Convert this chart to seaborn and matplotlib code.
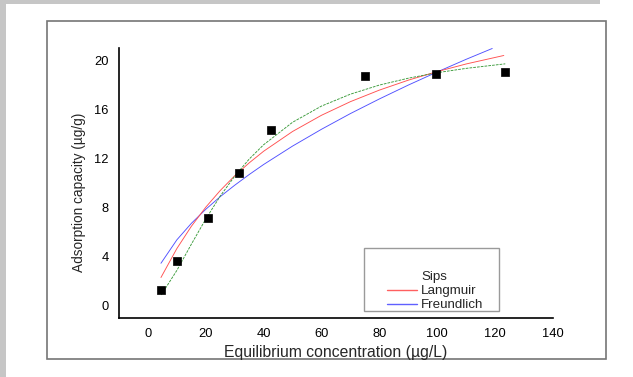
import matplotlib
matplotlib.use("Agg")
import matplotlib.pyplot as plt
from matplotlib.patches import Rectangle
from matplotlib.lines import Line2D
import seaborn as sns
import pandas as pd

# Experimental data
conc = [4.5, 10.1, 20.7, 31.5, 42.6, 74.9, 99.4, 123.5]
capacity = [1.31, 3.65, 7.18, 10.83, 14.29, 18.75, 18.86, 19.05]

# Model curves
sips_x = [4.6, 10, 15, 20, 25, 30, 35, 40, 50, 60, 70, 80, 90, 100, 110, 123.5]
sips_y = [0.88, 2.88, 5.01, 7.07, 8.94, 10.56, 11.95, 13.12, 14.95, 16.27, 17.24, 17.98, 18.54, 18.99, 19.34, 19.71]
lang_x = [4.5, 10, 15, 20, 25, 30, 35, 40, 50, 60, 70, 80, 90, 100, 110, 123]
lang_y = [2.30, 4.66, 6.47, 8.03, 9.39, 10.59, 11.64, 12.59, 14.20, 15.52, 16.63, 17.57, 18.38, 19.08, 19.70, 20.39]
freu_x = [4.5, 10, 15, 20, 25, 30, 35, 40, 50, 60, 70, 80, 90, 100, 110, 119]
freu_y = [3.46, 5.37, 6.71, 7.86, 8.89, 9.82, 10.69, 11.51, 13.01, 14.38, 15.66, 16.85, 17.98, 19.05, 20.08, 20.96]

x_ticks = [0, 20, 40, 60, 80, 100, 120, 140]
y_ticks = [0, 4, 8, 12, 16, 20]
legend_labels = ["Sips", "Langmuir", "Freundlich"]

sns.set_style("white")
plt.rcParams["font.family"] = ["Liberation Sans", "DejaVu Sans"]

W, H = 633, 377
fig = plt.figure(figsize=(W / 100, H / 100), dpi=100, facecolor="white")

def fx(px):
    return px / W

def fy(py):
    return 1 - py / H

# gray frame strips and inner box
fig.patches.append(Rectangle((0, 0), fx(6), 1, transform=fig.transFigure, facecolor="#c6c6c6", edgecolor="none", zorder=0))
fig.patches.append(Rectangle((0, fy(4)), fx(600), 4 / H, transform=fig.transFigure, facecolor="#c6c6c6", edgecolor="none", zorder=0))
fig.patches.append(Rectangle((fx(47), fy(359)), fx(606 - 47), (359 - 21) / H, transform=fig.transFigure,
                             facecolor="none", edgecolor="#767676", linewidth=1.2, zorder=1))

ax = fig.add_axes([fx(119), fy(318), fx(553 - 119), (318 - 48) / H])
ax.set_facecolor("none")

df_pts = pd.DataFrame({"x": conc, "y": capacity})
df_s = pd.DataFrame({"x": sips_x, "y": sips_y})
df_l = pd.DataFrame({"x": lang_x, "y": lang_y})
df_f = pd.DataFrame({"x": freu_x, "y": freu_y})

sns.lineplot(data=df_f, x="x", y="y", ax=ax, color="#5050ff", linewidth=0.65, sort=False, estimator=None)
sns.lineplot(data=df_l, x="x", y="y", ax=ax, color="#ff5050", linewidth=0.65, sort=False, estimator=None)
sns.lineplot(data=df_s, x="x", y="y", ax=ax, color="#3a9a3a", linewidth=0.65, sort=False, estimator=None)
ax.lines[-1].set_dashes([3, 1.2])
sns.scatterplot(data=df_pts, x="x", y="y", ax=ax, marker="s", s=30, color="black", edgecolor="black",
                linewidth=0.5, zorder=5)

ax.set_xlim(-10, 140)
ax.set_ylim(-1, 21)
ax.set_xticks(x_ticks)
ax.set_yticks(y_ticks)
ax.set_xticks([-10, 10, 30, 50, 70, 90, 110, 130], minor=True)
ax.set_yticks([2, 6, 10, 14, 18], minor=True)
ax.tick_params(axis="both", which="major", direction="out", length=4.5, width=1, labelsize=9.3, pad=3, colors="black")
ax.tick_params(axis="both", which="minor", direction="out", length=2.5, width=1, colors="black")

for side in ["top", "right"]:
    ax.spines[side].set_visible(False)
for side in ["left", "bottom"]:
    ax.spines[side].set_linewidth(1.2)
    ax.spines[side].set_color("black")

ax.set_xlabel("")
ax.set_ylabel("")
fig.text(fx(336), fy(353), "Equilibrium concentration (µg/L)", ha="center", va="center", fontsize=11.3)
fig.text(fx(79), fy(192), "Adsorption capacity (µg/g)", ha="center", va="center", rotation=90, fontsize=9.8)

# legend box
fig.patches.append(Rectangle((fx(364), fy(311)), fx(499 - 364), (311 - 248) / H, transform=fig.transFigure,
                             facecolor="white", edgecolor="#9a9a9a", linewidth=1.0, zorder=3))
handles = [Line2D([], [], color="none"),
           Line2D([], [], color="#ff6060", linewidth=1.0),
           Line2D([], [], color="#6060ff", linewidth=1.0)]
leg = fig.legend(handles, legend_labels, loc="upper left", bbox_to_anchor=(fx(387), fy(271)),
                 frameon=False, fontsize=9.6, handlelength=2.25, handletextpad=0.3, labelspacing=0.12,
                 borderpad=0, borderaxespad=0)
leg.set_zorder(4)

fig.savefig("out.png", dpi=100, facecolor="white")
